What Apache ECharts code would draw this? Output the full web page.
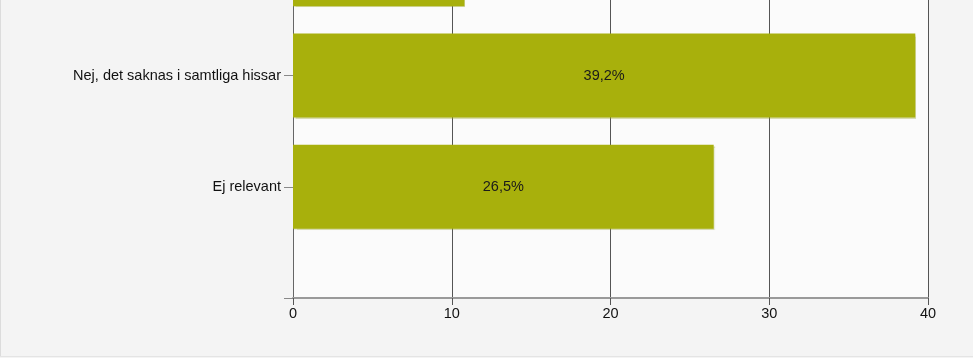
<!DOCTYPE html>
<html>
<head>
<meta charset="utf-8">
<script src="https://cdn.jsdelivr.net/npm/echarts@6/dist/echarts.min.js"></script>
<style>
html,body{margin:0;padding:0;background:#f4f4f4;}
#wrap{position:relative;width:973px;height:358px;overflow:hidden;}
#chart{position:absolute;left:0;top:-147px;width:973px;height:505px;}
#bl{position:absolute;left:0;top:0;width:1px;height:357px;background:#dcdcdc;}
#bb{position:absolute;left:0;top:356px;width:973px;height:1px;background:#e4e4e4;}
</style>
</head>
<body>
<div id="wrap"><div id="chart"></div><div id="bl"></div><div id="bb"></div></div>
<script>
// Categories bottom-to-top; blank ends pad the axis (top category is cut off in the reference)
const categories = ["", "Ej relevant", "Nej, det saknas i samtliga hissar", "Ja, i vissa hissar", ""];
const values = [null, 26.5, 39.2, 10.8, null];
const valueTicks = [0, 10, 20, 30, 40];

const FONT = 'Liberation Sans, Arial, sans-serif';
const chart = echarts.init(document.getElementById('chart'), null, {renderer: 'canvas'});
chart.setOption({
  backgroundColor: 'transparent',
  animation: false,
  grid: {left: 293, right: 45, bottom: 60, top: 0, show: true, backgroundColor: '#fbfbfb', borderWidth: 0, containLabel: false},
  xAxis: {
    type: 'value', min: valueTicks[0], max: valueTicks[valueTicks.length - 1], interval: 10,
    axisLine: {show: true, lineStyle: {color: '#9a9a9a', width: 2}},
    axisTick: {show: true, length: 7, lineStyle: {color: '#555'}},
    axisLabel: {fontFamily: FONT, fontSize: 14.5, color: '#111', margin: 8},
    splitLine: {show: true, lineStyle: {color: '#555', width: 1}}
  },
  yAxis: {
    type: 'category', data: categories, boundaryGap: false,
    axisLine: {show: true, lineStyle: {color: '#666', width: 1}},
    axisTick: {show: true, length: 9, lineStyle: {color: '#888'}},
    axisLabel: {fontFamily: FONT, fontSize: 14.5, color: '#111', margin: 12},
    splitLine: {show: false}
  },
  series: [{
    type: 'bar', data: values, barWidth: 84,
    itemStyle: {color: '#a8b00c', shadowColor: 'rgba(150,160,40,0.35)', shadowOffsetX: 1, shadowOffsetY: 1, shadowBlur: 1},
    label: {show: true, position: 'inside', fontFamily: FONT, fontSize: 14.5, color: '#1a1a1a',
      formatter: p => p.value == null ? '' : p.value.toFixed(1).replace('.', ',') + '%'}
  }]
});
</script>
</body>
</html>
